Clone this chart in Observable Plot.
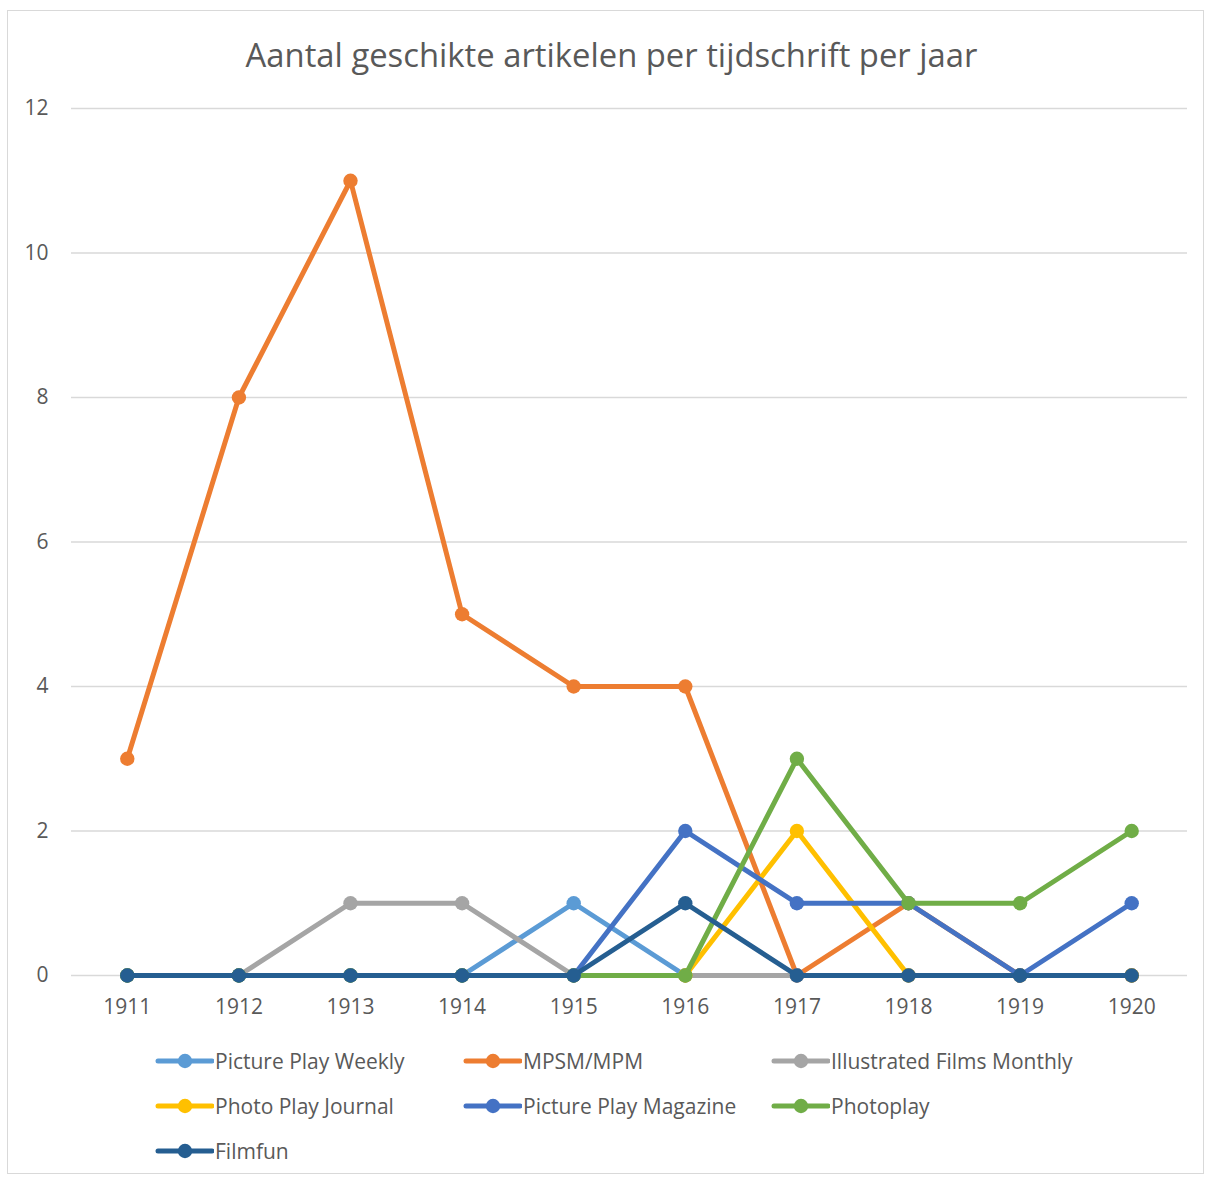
<!DOCTYPE html>
<html>
<head>
<meta charset="utf-8">
<script src="https://cdn.jsdelivr.net/npm/d3@7"></script>
<script src="https://cdn.jsdelivr.net/npm/@observablehq/plot@0.6"></script>
<style>
  body { margin: 0; background: #fff; }
  #wrap { position: relative; width: 1213px; height: 1178px; font-family: "Open Sans", sans-serif; color: #595959; }
  #frame { position: absolute; left: 7px; top: 10px; width: 1197px; height: 1164px; border: 1px solid #D9D9D9; box-sizing: border-box; }
  #title { position: absolute; left: 0; width: 1223px; top: 32px; text-align: center; font-size: 32.8px; font-weight: 400; white-space: nowrap; }
  #chart { position: absolute; left: 0; top: 0; }
  .leg { position: absolute; display: flex; align-items: center; font-size: 21px; white-space: nowrap; }
  .leg svg { margin-right: 1px; }
</style>
</head>
<body>
<div id="wrap">
  <div id="frame"></div>
  <div id="chart"></div>
  <div id="title">Aantal geschikte artikelen per tijdschrift per jaar</div>
</div>
<script>
const years = [1911, 1912, 1913, 1914, 1915, 1916, 1917, 1918, 1919, 1920];
const seriesNames = ["Picture Play Weekly", "MPSM/MPM", "Illustrated Films Monthly", "Photo Play Journal", "Picture Play Magazine", "Photoplay", "Filmfun"];
const seriesColors = ["#5B9BD5", "#ED7D31", "#A5A5A5", "#FFC000", "#4472C4", "#70AD47", "#255E91"];
const picturePlayWeekly       = [0, 0, 0, 0, 1, 0, 0, 0, 0, 0];
const mpsmMpm                 = [3, 8, 11, 5, 4, 4, 0, 1, 0, 0];
const illustratedFilmsMonthly = [0, 0, 1, 1, 0, 0, 0, 0, 0, 0];
const photoPlayJournal        = [0, 0, 0, 0, 0, 0, 2, 0, 0, 0];
const picturePlayMagazine     = [0, 0, 0, 0, 0, 2, 1, 1, 0, 1];
const photoplay               = [0, 0, 0, 0, 0, 0, 3, 1, 1, 2];
const filmfun                 = [0, 0, 0, 0, 0, 1, 0, 0, 0, 0];
const yTicks = [0, 2, 4, 6, 8, 10, 12];

const seriesValues = [picturePlayWeekly, mpsmMpm, illustratedFilmsMonthly, photoPlayJournal, picturePlayMagazine, photoplay, filmfun];
const tables = seriesNames.map((name, i) => years.map((y, j) => ({series: name, year: String(y), value: seriesValues[i][j]})));

const marks = [
  Plot.gridY(yTicks, {stroke: "#D9D9D9", strokeOpacity: 1, strokeWidth: 1.3}),
  Plot.axisY(yTicks, {tickSize: 0, tickPadding: 23, fontSize: 21, fill: "#595959", label: null, tickFormat: d => String(d)}),
  Plot.axisX({tickSize: 0, tickPadding: 24, fontSize: 21, fill: "#595959", label: null})
];
tables.forEach((t, i) => {
  marks.push(Plot.line(t, {x: "year", y: "value", stroke: seriesColors[i], strokeWidth: 5, strokeLinejoin: "round", strokeLinecap: "round"}));
  marks.push(Plot.dot(t, {x: "year", y: "value", fill: seriesColors[i], r: 7.2}));
});

const chart = Plot.plot({
  width: 1213,
  height: 1030,
  marginLeft: 71,
  marginRight: 26,
  marginTop: 108,
  marginBottom: 55,
  style: {fontFamily: "Open Sans, sans-serif", color: "#595959", background: "transparent", overflow: "visible"},
  x: {type: "point", domain: years.map(String), padding: 0.5, round: false},
  y: {domain: [0, 12]},
  marks
});
document.getElementById("chart").appendChild(chart);

// legend
const wrap = document.getElementById("wrap");
const colX = [155, 463, 771];
const rowY = [1061, 1106, 1151];
seriesNames.forEach((name, i) => {
  const d = document.createElement("div");
  d.className = "leg";
  d.style.left = colX[i % 3] + "px";
  d.style.top = (rowY[Math.floor(i / 3)] - 15) + "px";
  d.style.height = "30px";
  const c = seriesColors[i];
  d.innerHTML = `<svg width="59" height="30"><line x1="3" x2="57" y1="15" y2="15" stroke="${c}" stroke-width="5" stroke-linecap="round"/><circle cx="30" cy="15" r="7.2" fill="${c}"/></svg><span>${name}</span>`;
  wrap.appendChild(d);
});
</script>
</body>
</html>
